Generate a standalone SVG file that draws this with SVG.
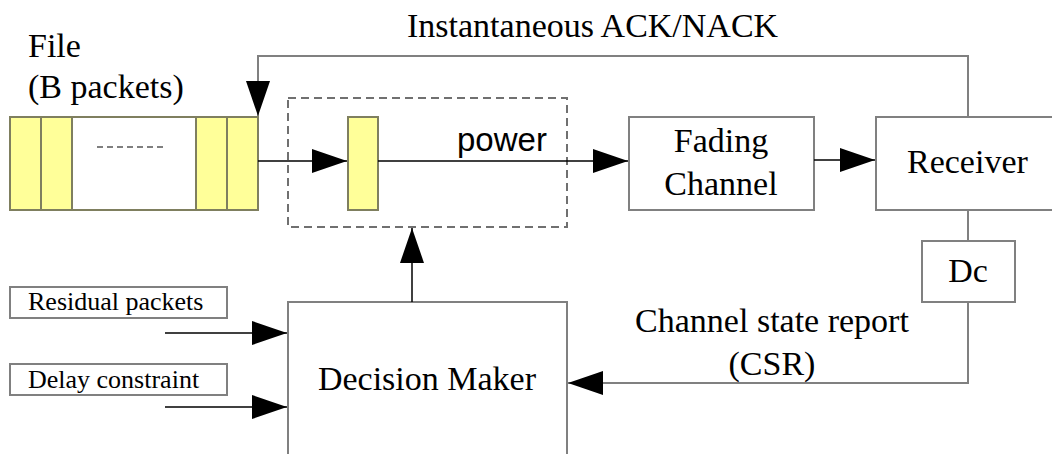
<svg xmlns="http://www.w3.org/2000/svg" width="1052" height="454" viewBox="0 0 1052 454">
<style>
.box{fill:#fff;stroke:#808080;stroke-width:2}
.pk{fill:#ffff99;stroke:#7f7f5f;stroke-width:2}
.t{font-family:"Liberation Serif","Times New Roman",serif;font-size:34px;fill:#000}
.ts{font-family:"Liberation Serif","Times New Roman",serif;font-size:26px;fill:#000}
.sans{font-family:"Liberation Sans",Arial,sans-serif;font-size:33px;fill:#000}
.c{fill:none;stroke:#000;stroke-width:1.5}
.g{fill:none;stroke:#808080;stroke-width:2}
</style>
<defs>
<marker id="ah" markerUnits="userSpaceOnUse" markerWidth="36" markerHeight="26" refX="35" refY="12" orient="auto">
<path d="M0,0 L35,12 L0,24 z" fill="#000"/>
</marker>
</defs>
<g id="file">
<text class="t" x="28" y="57">File</text>
<text class="t" x="28" y="98">(B packets)</text>
<rect class="box" x="10" y="117" width="248" height="93" style="stroke:#7f7f5f"/>
<rect class="pk" x="10" y="117" width="31" height="93"/>
<rect class="pk" x="41" y="117" width="31" height="93"/>
<rect class="pk" x="196" y="117" width="31" height="93"/>
<rect class="pk" x="227" y="117" width="31" height="93"/>
<line x1="97" y1="147" x2="165" y2="147" stroke="#000" stroke-width="1.2" stroke-dasharray="6 4"/>
</g>
<g id="transmitter">
<rect x="288" y="98" width="279" height="129" fill="none" stroke="#707070" stroke-width="2" stroke-dasharray="8 5"/>
<rect class="pk" x="348" y="117" width="30" height="93"/>
<text class="sans" x="457" y="151">power</text>
</g>
<g id="fading">
<rect class="box" x="629" y="117" width="185" height="93"/>
<text class="t" x="721" y="152" text-anchor="middle">Fading</text>
<text class="t" x="721" y="195" text-anchor="middle">Channel</text>
</g>
<g id="receiver">
<rect class="box" x="876" y="117" width="190" height="93"/>
<text class="t" x="907" y="173">Receiver</text>
</g>
<g id="dc">
<rect class="box" x="922" y="241" width="93" height="61"/>
<text class="t" x="968" y="282" text-anchor="middle">Dc</text>
</g>
<g id="decision">
<rect class="box" x="288" y="302" width="279" height="170"/>
<text class="t" x="427" y="390" text-anchor="middle">Decision Maker</text>
</g>
<g id="residual">
<rect class="box" x="10" y="287" width="217" height="31"/>
<text class="ts" x="28" y="310">Residual packets</text>
</g>
<g id="delay">
<rect class="box" x="10" y="364" width="217" height="31"/>
<text class="ts" x="28" y="388">Delay constraint</text>
</g>
<g id="connectors">
<path class="c" d="M258,161 H347" marker-end="url(#ah)"/>
<path class="c" d="M378,161 H628" marker-end="url(#ah)"/>
<path class="c" d="M814,160 H875" marker-end="url(#ah)"/>
<path class="g" d="M968,117 V56 H258 V116" marker-end="url(#ah)"/>
<path class="g" d="M968,210 V241"/>
<path class="g" d="M968,302 V383 H568" marker-end="url(#ah)"/>
<path class="c" d="M412,302 V228" marker-end="url(#ah)"/>
<path class="c" d="M165,333 H287" marker-end="url(#ah)"/>
<path class="c" d="M165,407 H287" marker-end="url(#ah)"/>
<text class="t" x="407" y="37">Instantaneous ACK/NACK</text>
<text class="t" x="772" y="332" text-anchor="middle">Channel state report</text>
<text class="t" x="772" y="375" text-anchor="middle">(CSR)</text>
</g>
</svg>
